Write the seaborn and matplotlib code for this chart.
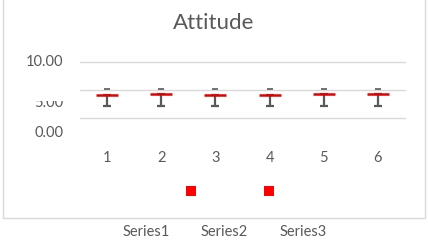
import matplotlib
matplotlib.use("Agg")
import matplotlib.pyplot as plt
import seaborn as sns
import pandas as pd
from matplotlib.patches import Rectangle

# ---- data ----
categories = [1, 2, 3, 4, 5, 6]
high = [5.18, 5.18, 5.18, 5.18, 5.18, 5.18]
close = [4.11, 4.23, 4.17, 4.05, 4.23, 4.23]
low = [2.14, 2.14, 2.14, 2.14, 2.14, 2.14]
y_ticks = [0, 5, 10]
y_tick_labels = ["0.00", "5.00", "10.00"]
y_label_pos = [-2.6, 2.6, 10.0]
marker_x = [1.55, 2.99]
marker_y = [-13.0, -13.0]
series_names = ["Series1", "Series2", "Series3"]
title = "Attitude"

sns.set_theme(style="white")
plt.rcParams['font.family'] = ['Lato', 'DejaVu Sans']

W, H = 428, 242
fig = plt.figure(figsize=(W / 100, H / 100), dpi=100)
fig.patch.set_facecolor("white")

# chart border
fig.patches.append(Rectangle((3.5 / W, (H - 218) / H), (424.5 - 3.5) / W, 1.2,
                             transform=fig.transFigure, fill=False,
                             edgecolor="#d9d9d9", linewidth=1.0))

ax = fig.add_axes([80 / W, (H - 118) / H, 325 / W, 56 / H])
ax.set_facecolor("none")
xpos = list(range(len(categories)))
df = pd.DataFrame({"x": xpos, "high": high, "close": close, "low": low})

for sp in ax.spines.values():
    sp.set_visible(False)
ax.set_ylim(0, 10)
ax.set_xlim(-0.5, len(categories) - 0.5)
ax.set_yticks(y_ticks)
ax.set_yticklabels([])
ax.yaxis.grid(True, color="#d9d9d9", linewidth=1.0)
for gl in ax.get_ygridlines():
    gl.set_clip_on(False)
ax.tick_params(axis="both", length=0)
ax.set_xticks(xpos)
ax.set_xticklabels([str(c) for c in categories], fontsize=10.5, color="#595959")
ax.tick_params(axis="x", pad=24)

# whiskers (close -> low) with caps
ax.errorbar(df["x"], df["close"], yerr=[[c - l for c, l in zip(close, low)], [0] * 6],
            fmt="none", ecolor="#595959", elinewidth=1.6, capsize=3, capthick=1.6,
            zorder=3, clip_on=False)
# high dash
sns.scatterplot(data=df, x="x", y="high", marker="_", s=20, color="#595959",
                linewidth=1.2, ax=ax, zorder=4, clip_on=False, legend=False)
# close marker
sns.scatterplot(data=df, x="x", y="close", marker="_", s=240, color="#e00000",
                linewidth=1.8, ax=ax, zorder=5, clip_on=False, legend=False)
ax.set_xlabel("")
ax.set_ylabel("")

# red squares
sns.scatterplot(x=marker_x, y=marker_y, marker="s", s=48, color="#ff0000",
                linewidth=0, ax=ax, clip_on=False, legend=False)

# y labels (offset as in reference)
for v, lab in zip(y_label_pos, y_tick_labels):
    ax.text(-0.052, v, lab, transform=ax.get_yaxis_transform(), ha="right",
            va="center", fontsize=10.5, color="#595959", clip_on=False)

# white strip clipping the top of the middle label, as in the reference
fig.patches.append(Rectangle((30 / W, (H - 100.5) / H), 40 / W, 9 / H,
                             transform=fig.transFigure, facecolor="white",
                             edgecolor="none", zorder=10))

fig.text(214 / W, 1 - 23 / H, title, ha="center", va="center", fontsize=16,
         color="#595959")

for name, cx in zip(series_names, [146, 224, 303]):
    fig.text(cx / W, 1 - 232 / H, name, ha="center", va="center", fontsize=10.5,
             color="#595959")

fig.savefig("out.png", dpi=100, facecolor="white")
